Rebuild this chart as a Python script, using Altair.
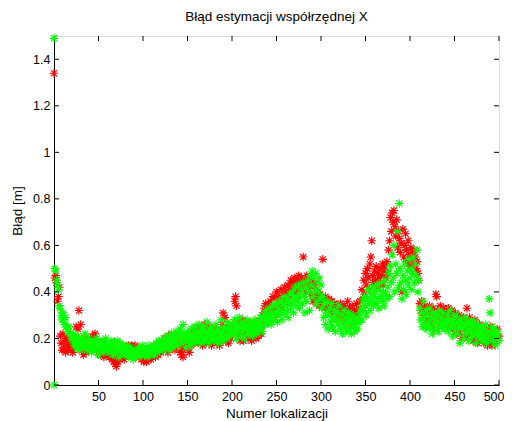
import altair as alt
import pandas as pd

# ---- data (index 1..500) ----
green = [
    0.50,0.49,0.45,0.43,0.41,0.34,0.33,0.30,0.28,0.31,0.27,0.26,0.29,0.25,0.24,0.23,0.25,0.22,0.21,0.20,
    0.19,0.22,0.17,0.20,0.18,0.16,0.21,0.19,0.15,0.18,0.20,0.17,0.16,0.19,0.22,0.18,0.15,0.17,0.20,0.16,
    0.18,0.14,0.17,0.19,0.16,0.15,0.18,0.20,0.17,0.13,0.16,0.18,0.15,0.19,0.17,0.14,0.16,0.20,0.18,0.15,
    0.17,0.14,0.16,0.19,0.15,0.13,0.17,0.18,0.14,0.16,0.19,0.15,0.12,0.16,0.18,0.14,0.17,0.15,0.13,0.16,
    0.14,0.17,0.15,0.12,0.14,0.16,0.13,0.15,0.11,0.14,0.12,0.15,0.13,0.16,0.14,0.12,0.15,0.13,0.17,0.14,
    0.15,0.13,0.16,0.14,0.12,0.15,0.17,0.13,0.16,0.14,0.15,0.17,0.13,0.16,0.18,0.14,0.16,0.19,0.15,0.17,
    0.18,0.15,0.20,0.17,0.16,0.19,0.21,0.17,0.15,0.20,0.18,0.22,0.19,0.16,0.21,0.18,0.23,0.20,0.17,0.22,
    0.20,0.24,0.18,0.21,0.26,0.19,0.22,0.16,0.20,0.23,0.19,0.21,0.17,0.24,0.20,0.22,0.18,0.25,0.21,0.19,
    0.23,0.20,0.26,0.22,0.18,0.24,0.21,0.25,0.19,0.23,0.20,0.27,0.22,0.18,0.24,0.21,0.25,0.20,0.23,0.19,
    0.22,0.26,0.20,0.24,0.18,0.23,0.21,0.28,0.22,0.19,0.25,0.21,0.24,0.20,0.27,0.23,0.21,0.25,0.22,0.24,
    0.26,0.22,0.28,0.24,0.20,0.26,0.23,0.29,0.25,0.21,0.27,0.23,0.25,0.20,0.26,0.24,0.28,0.22,0.25,0.23,
    0.27,0.24,0.21,0.26,0.23,0.28,0.25,0.22,0.27,0.24,0.26,0.29,0.25,0.23,0.28,0.30,0.26,0.32,0.28,0.30,
    0.27,0.33,0.29,0.26,0.31,0.34,0.28,0.30,0.35,0.31,0.27,0.33,0.36,0.30,0.32,0.28,0.35,0.38,0.31,0.34,
    0.37,0.32,0.29,0.36,0.39,0.33,0.35,0.40,0.31,0.37,0.42,0.34,0.38,0.36,0.43,0.33,0.39,0.41,0.35,0.44,
    0.38,0.31,0.42,0.36,0.45,0.40,0.32,0.47,0.43,0.49,0.38,0.46,0.41,0.48,0.35,0.44,0.40,0.46,0.37,0.43,
    0.33,0.38,0.29,0.35,0.26,0.31,0.36,0.24,0.30,0.33,0.27,0.35,0.25,0.29,0.32,0.23,0.28,0.31,0.26,0.34,
    0.28,0.24,0.30,0.22,0.27,0.32,0.25,0.29,0.23,0.27,0.31,0.24,0.28,0.22,0.26,0.30,0.25,0.23,0.28,0.26,
    0.24,0.29,0.27,0.31,0.33,0.28,0.36,0.32,0.38,0.34,0.30,0.37,0.41,0.35,0.32,0.39,0.36,0.42,0.34,0.38,
    0.40,0.35,0.43,0.37,0.33,0.41,0.38,0.44,0.36,0.40,0.34,0.45,0.39,0.37,0.42,0.48,0.38,0.51,0.44,0.56,
    0.46,0.60,0.40,0.52,0.48,0.66,0.42,0.78,0.50,0.44,0.37,0.47,0.41,0.52,0.45,0.39,0.49,0.43,0.54,0.46,
    0.50,0.41,0.48,0.55,0.44,0.52,0.47,0.58,0.40,0.45,0.33,0.28,0.31,0.25,0.36,0.29,0.26,0.32,0.24,0.30,
    0.27,0.33,0.25,0.29,0.22,0.31,0.26,0.28,0.24,0.30,0.27,0.23,0.32,0.26,0.29,0.25,0.31,0.27,0.24,0.28,
    0.26,0.30,0.23,0.28,0.32,0.25,0.27,0.21,0.29,0.26,0.24,0.30,0.22,0.27,0.25,0.18,0.28,0.24,0.26,0.20,
    0.25,0.29,0.22,0.27,0.24,0.19,0.26,0.23,0.28,0.21,0.25,0.27,0.22,0.18,0.24,0.26,0.21,0.23,0.20,0.25,
    0.22,0.19,0.24,0.21,0.26,0.18,0.23,0.20,0.37,0.31,0.22,0.25,0.19,0.24,0.21,0.17,0.23,0.20,0.22,0.19,
]

red = [
    0.46,0.47,0.44,0.36,0.38,0.42,0.21,0.18,0.15,0.22,0.16,0.19,0.14,0.20,0.17,0.15,0.18,0.21,0.16,0.19,
    0.14,0.18,0.16,0.20,0.25,0.17,0.24,0.32,0.19,0.26,0.15,0.18,0.13,0.17,0.20,0.14,0.16,0.19,0.15,0.18,
    0.16,0.19,0.21,0.17,0.20,0.22,0.18,0.15,0.19,0.14,0.17,0.13,0.16,0.18,0.15,0.12,0.17,0.14,0.16,0.13,
    0.15,0.12,0.14,0.17,0.11,0.13,0.10,0.15,0.09,0.08,0.12,0.10,0.14,0.11,0.13,0.16,0.12,0.14,0.11,0.15,
    0.13,0.16,0.14,0.17,0.15,0.16,0.17,0.15,0.16,0.14,0.17,0.12,0.15,0.13,0.16,0.12,0.14,0.11,0.15,0.12,
    0.10,0.12,0.11,0.10,0.13,0.11,0.12,0.14,0.11,0.15,0.13,0.16,0.14,0.12,0.17,0.15,0.13,0.18,0.16,0.14,
    0.17,0.19,0.15,0.18,0.20,0.16,0.19,0.14,0.21,0.17,0.19,0.22,0.16,0.20,0.18,0.15,0.21,0.19,0.17,0.20,
    0.18,0.14,0.13,0.16,0.12,0.15,0.19,0.17,0.21,0.16,0.18,0.14,0.20,0.17,0.23,0.19,0.21,0.18,0.24,0.20,
    0.22,0.18,0.25,0.21,0.19,0.23,0.17,0.22,0.26,0.20,0.18,0.24,0.21,0.19,0.25,0.22,0.17,0.23,0.20,0.24,
    0.19,0.22,0.18,0.24,0.21,0.17,0.23,0.20,0.26,0.31,0.22,0.29,0.19,0.24,0.21,0.18,0.25,0.23,0.20,0.22,
    0.26,0.24,0.36,0.38,0.34,0.21,0.27,0.23,0.19,0.25,0.22,0.28,0.19,0.24,0.21,0.26,0.23,0.20,0.27,0.24,
    0.22,0.19,0.25,0.21,0.27,0.23,0.20,0.26,0.24,0.21,0.28,0.25,0.22,0.30,0.26,0.33,0.28,0.35,0.31,0.27,
    0.34,0.30,0.36,0.28,0.32,0.38,0.33,0.29,0.37,0.40,0.34,0.31,0.38,0.35,0.41,0.33,0.39,0.36,0.42,0.37,
    0.40,0.35,0.43,0.38,0.41,0.45,0.39,0.44,0.42,0.46,0.40,0.45,0.43,0.38,0.47,0.41,0.44,0.46,0.42,0.55,
    0.43,0.45,0.40,0.47,0.44,0.41,0.46,0.39,0.43,0.45,0.36,0.42,0.38,0.44,0.35,0.40,0.37,0.34,0.39,0.36,
    0.35,0.54,0.37,0.33,0.38,0.34,0.36,0.32,0.37,0.35,0.31,0.36,0.33,0.29,0.35,0.32,0.30,0.34,0.28,0.33,
    0.31,0.35,0.29,0.33,0.27,0.34,0.30,0.32,0.28,0.36,0.31,0.33,0.26,0.30,0.34,0.29,0.32,0.27,0.31,0.35,
    0.30,0.33,0.28,0.36,0.32,0.41,0.37,0.45,0.39,0.48,0.43,0.50,0.46,0.41,0.52,0.55,0.62,0.47,0.44,0.49,
    0.45,0.51,0.42,0.48,0.46,0.50,0.44,0.47,0.52,0.43,0.49,0.51,0.46,0.53,0.48,0.58,0.62,0.72,0.66,0.74,
    0.70,0.75,0.68,0.64,0.71,0.59,0.66,0.63,0.57,0.61,0.40,0.67,0.55,0.60,0.65,0.58,0.53,0.62,0.56,0.51,
    0.59,0.54,0.57,0.52,0.58,0.55,0.50,0.53,0.48,0.45,0.35,0.32,0.36,0.30,0.33,0.31,0.34,0.29,0.32,0.27,
    0.30,0.34,0.28,0.31,0.26,0.33,0.29,0.24,0.39,0.38,0.32,0.27,0.30,0.34,0.28,0.31,0.25,0.33,0.29,0.26,
    0.31,0.28,0.33,0.25,0.30,0.27,0.32,0.24,0.29,0.26,0.31,0.22,0.28,0.25,0.30,0.23,0.27,0.20,0.26,0.29,
    0.24,0.28,0.21,0.33,0.26,0.23,0.29,0.25,0.22,0.27,0.19,0.24,0.28,0.21,0.25,0.18,0.23,0.26,0.20,0.24,
    0.21,0.25,0.18,0.23,0.20,0.24,0.17,0.22,0.19,0.25,0.21,0.17,0.23,0.20,0.18,0.22,0.19,0.24,0.20,0.21,
]

extra_x = [0, 0, 0]
extra_y = [1.34, 1.49, 0.0]
extra_s = ["red", "green", "green"]

x_ticks = [50, 100, 150, 200, 250, 300, 350, 400, 450, 500]
y_ticks = [0, 0.2, 0.4, 0.6, 0.8, 1.0, 1.2, 1.4]

# ---- build table ----
rows = []
for i, v in enumerate(red):
    rows.append({"x": i + 1, "y": v, "s": "red"})
for i, v in enumerate(green):
    rows.append({"x": i + 1, "y": v, "s": "green"})
for xv, yv, sv in zip(extra_x, extra_y, extra_s):
    rows.append({"x": xv, "y": yv, "s": sv})
df = pd.DataFrame(rows)
xt = pd.DataFrame({"v": x_ticks})
yt = pd.DataFrame({"v": y_ticks})

W, H = 445, 349
FONT = "Liberation Sans"
star = "M-1,0L1,0M0,-1L0,1M-0.72,-0.72L0.72,0.72M-0.72,0.72L0.72,-0.72"

xs = alt.Scale(domain=[0, 500], nice=False, zero=False)
ys = alt.Scale(domain=[0, 1.5], nice=False, zero=False)

x_axis = alt.Axis(values=x_ticks, title="Numer lokalizacji", grid=False, ticks=False,
                  tickSize=0, labelPadding=5, labelFontSize=12.5, labelFont=FONT,
                  labelColor="black", titleFont=FONT, titleFontSize=13.5,
                  titleFontWeight="normal", titleColor="black", titlePadding=4,
                  domainColor="black", labelFlush=True, labelFlushOffset=5)
y_axis = alt.Axis(values=y_ticks, title="Błąd [m]", grid=False, ticks=False,
                  tickSize=0, labelPadding=4, labelFontSize=12.5, labelFont=FONT,
                  labelColor="black", titleFont=FONT, titleFontSize=13.5,
                  titleFontWeight="normal", titleColor="black", titlePadding=8,
                  domainColor="black", format="~g", labelFlush=False)

pts = alt.Chart(df)
red_layer = pts.transform_filter(alt.datum.s == "red").mark_point(
    shape=star, size=72, filled=False, strokeWidth=1.15, color="#ff0000", opacity=1
).encode(x=alt.X("x:Q", scale=xs, axis=x_axis), y=alt.Y("y:Q", scale=ys, axis=y_axis))
green_layer = pts.transform_filter(alt.datum.s == "green").mark_point(
    shape=star, size=72, filled=False, strokeWidth=1.15, color="#00ff00", opacity=1
).encode(x=alt.X("x:Q", scale=xs, axis=x_axis), y=alt.Y("y:Q", scale=ys, axis=y_axis))

tick_style = dict(color="black", strokeWidth=1)
yl = alt.Chart(yt).mark_rule(**tick_style).encode(
    y=alt.Y("v:Q", scale=ys, axis=y_axis), x=alt.value(0), x2=alt.value(5))
yr = alt.Chart(yt).mark_rule(**tick_style).encode(
    y=alt.Y("v:Q", scale=ys, axis=y_axis), x=alt.value(W - 5), x2=alt.value(W))
xb = alt.Chart(xt).mark_rule(**tick_style).encode(
    x=alt.X("v:Q", scale=xs, axis=x_axis), y=alt.value(H - 5), y2=alt.value(H))
xtp = alt.Chart(xt).mark_rule(**tick_style).encode(
    x=alt.X("v:Q", scale=xs, axis=x_axis), y=alt.value(0), y2=alt.value(5))

chart = alt.layer(red_layer, green_layer, yl, yr, xb, xtp).properties(
    width=W, height=H,
    title=alt.TitleParams("Błąd estymacji współrzędnej X", font=FONT, fontSize=13.5,
                          fontWeight="normal", color="black", offset=8, anchor="middle"),
    autosize=alt.AutoSizeParams(type="none"),
    padding={"left": 46, "top": 28, "right": 5, "bottom": 36},
).configure_view(stroke="black", strokeWidth=1).configure(background="white")

chart.save("out.html", embed_options={"renderer": "svg", "actions": False})
